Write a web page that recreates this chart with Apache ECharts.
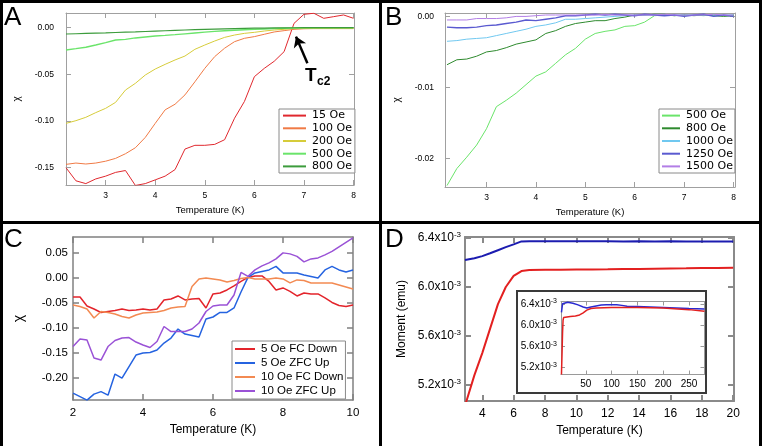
<!DOCTYPE html>
<html>
<head>
<meta charset="utf-8">
<script src="https://cdn.jsdelivr.net/npm/echarts@6/dist/echarts.min.js"></script>
<style>
html, body { margin: 0; padding: 0; width: 762px; height: 446px; background: #000; overflow: hidden; }
.panel { position: absolute; background: #fff; }
#chart { position: absolute; left: 0; top: 0; width: 762px; height: 446px; }
</style>
</head>
<body>
<div class="panel" style="left:3px;top:3px;width:376px;height:218px"></div>
<div class="panel" style="left:382px;top:3px;width:377px;height:218px"></div>
<div class="panel" style="left:3px;top:224px;width:376px;height:222px"></div>
<div class="panel" style="left:382px;top:224px;width:377px;height:222px"></div>
<div id="chart"></div>
<script>
// panel A : chi vs T, low fields
var tempA = [2.2, 2.4, 2.6, 2.8, 3.0, 3.2, 3.4, 3.6, 3.8, 4.0, 4.2, 4.4, 4.6, 4.8, 5.0, 5.2, 5.4, 5.6, 5.8, 6.0, 6.2, 6.4, 6.6, 6.8, 7.0, 7.2, 7.4, 7.6, 7.8, 8.0];
var chiA15 = [-0.150, -0.164, -0.167, -0.162, -0.159, -0.155, -0.153, -0.169, -0.167, -0.163, -0.159, -0.152, -0.130, -0.126, -0.126, -0.125, -0.120, -0.097, -0.079, -0.0525, -0.0436, -0.036, -0.0257, 0.0046, 0.0143, 0.0154, 0.010, 0.0118, 0.0136, 0.010];
var chiA100 = [-0.1464, -0.145, -0.146, -0.145, -0.143, -0.140, -0.135, -0.1286, -0.1175, -0.1025, -0.088, -0.082, -0.072, -0.058, -0.0436, -0.031, -0.022, -0.015, -0.0114, -0.0096, -0.0071, -0.0046, -0.0032, -0.0018, -0.0012, -0.001, -0.001, -0.001, -0.001, -0.001];
var chiA200 = [-0.1025, -0.0996, -0.096, -0.091, -0.0864, -0.080, -0.0668, -0.0596, -0.0507, -0.0443, -0.0393, -0.0346, -0.0304, -0.0232, -0.0186, -0.0143, -0.0104, -0.0079, -0.0061, -0.005, -0.0036, -0.0025, -0.0018, -0.001, -0.0009, -0.0008, -0.0008, -0.0008, -0.0008, -0.0008];
var chiA500 = [-0.0239, -0.0225, -0.021, -0.0186, -0.016, -0.0132, -0.0125, -0.011, -0.010, -0.009, -0.0083, -0.0075, -0.0066, -0.0057, -0.0048, -0.004, -0.0033, -0.0027, -0.0022, -0.0018, -0.0014, -0.001, -0.0007, -0.0004, -0.0002, -0.0002, -0.0002, -0.0002, -0.0002, -0.0002];
var chiA800 = [-0.0068, -0.0065, -0.0062, -0.0059, -0.0056, -0.0052, -0.0048, -0.0045, -0.0041, -0.0037, -0.0033, -0.0029, -0.0025, -0.0022, -0.0019, -0.0016, -0.0013, -0.001, -0.0008, -0.0006, -0.0004, -0.0003, -0.0002, -0.0001, 0, 0, 0, 0, 0, 0];

// panel B : higher fields
var tempB = [2.2, 2.4, 2.6, 2.8, 3.0, 3.2, 3.4, 3.6, 3.8, 4.0, 4.2, 4.4, 4.6, 4.8, 5.0, 5.2, 5.4, 5.6, 5.8, 6.0, 6.2, 6.4, 6.6, 6.8, 7.0, 7.2, 7.4, 7.6, 7.8, 8.0];
var chiB500 = [-0.0238, -0.0214, -0.0198, -0.0181, -0.0158, -0.0127, -0.0118, -0.0108, -0.0096, -0.0084, -0.0078, -0.0066, -0.0054, -0.0045, -0.0032, -0.0024, -0.0021, -0.0019, -0.0014, -0.0013, -0.0008, 0.0001, 0.0002, 0.0001, 0.0002, 0.0002, 0.0001, 0.0003, 0.0001, 0.0002];
var chiB800 = [-0.0068, -0.0061, -0.006, -0.0056, -0.005, -0.0048, -0.0044, -0.0039, -0.0036, -0.0033, -0.0024, -0.002, -0.0014, -0.001, -0.0008, -0.0006, -0.0006, -0.0003, -0.0001, 0.0002, 0.0002, 0.0003, 0.0003, 0.0001, 0.0002, 0.0001, 0.0002, 0.0001, 0.0, 0.0001];
var chiB1000 = [-0.0035, -0.0034, -0.0032, -0.0031, -0.003, -0.0027, -0.0024, -0.0021, -0.0018, -0.0014, -0.0012, -0.0009, -0.0004, -0.0004, -0.0003, -0.0002, -0.0001, 0.0, 0.0001, 0.0002, 0.0002, 0.0002, 0.0002, 0.0002, 0.0002, 0.0002, 0.0002, 0.0002, 0.0002, 0.0002];
var chiB1250 = [-0.0015, -0.0016, -0.0016, -0.0015, -0.0013, -0.0012, -0.001, -0.0008, -0.0005, -0.0006, -0.0004, -0.0002, 0.0001, 0.0001, 0.0002, 0.0003, 0.0002, 0.0003, 0.0002, 0.0001, 0.0003, 0.0002, 0.0001, 0.0002, 0.0, 0.0002, 0.0003, 0.0, 0.0002, 0.0];
var chiB1500 = [-0.0005, -0.0005, -0.0005, -0.0003, -0.0003, -0.0003, -0.0002, 0.0, 0.0, 0.0001, 0.0002, 0.0002, 0.0002, 0.0002, 0.0002, 0.0002, 0.0003, 0.0002, 0.0002, 0.0002, 0.0002, 0.0002, 0.0003, 0.0002, 0.0002, 0.0002, 0.0002, 0.0003, 0.0002, 0.0002];

// panel C : FC / ZFC
var tempC = [2.0, 2.2, 2.4, 2.6, 2.8, 3.0, 3.2, 3.4, 3.6, 3.8, 4.0, 4.2, 4.4, 4.6, 4.8, 5.0, 5.2, 5.4, 5.6, 5.8, 6.0, 6.2, 6.4, 6.6, 6.8, 7.0, 7.2, 7.4, 7.6, 7.8, 8.0, 8.2, 8.4, 8.6, 8.8, 9.0, 9.2, 9.4, 9.6, 9.8, 10.0];
var chiC5FC = [-0.039, -0.039, -0.057, -0.063, -0.07, -0.068, -0.066, -0.063, -0.066, -0.065, -0.063, -0.065, -0.063, -0.045, -0.043, -0.037, -0.045, -0.043, -0.042, -0.061, -0.033, -0.031, -0.025, -0.017, -0.008, 0.0, 0.003, 0.003, -0.008, -0.025, -0.021, -0.028, -0.037, -0.031, -0.033, -0.033, -0.041, -0.05, -0.056, -0.058, -0.055];
var chiC5ZFC = [-0.231, -0.238, -0.245, -0.233, -0.228, -0.235, -0.193, -0.201, -0.178, -0.155, -0.151, -0.15, -0.145, -0.131, -0.121, -0.103, -0.113, -0.116, -0.119, -0.083, -0.079, -0.07, -0.07, -0.061, -0.029, 0.0, 0.009, 0.012, 0.015, 0.022, 0.009, 0.009, 0.009, 0.005, 0.002, -0.001, 0.015, 0.022, 0.015, 0.011, 0.015];
var chiC10FC = [-0.055, -0.058, -0.063, -0.081, -0.068, -0.07, -0.073, -0.078, -0.081, -0.075, -0.071, -0.07, -0.069, -0.066, -0.061, -0.059, -0.058, -0.018, -0.003, -0.001, -0.003, -0.005, -0.009, -0.006, -0.002, 0.0, -0.003, -0.003, -0.003, -0.001, -0.003, -0.011, -0.005, -0.006, -0.011, -0.011, -0.011, -0.011, -0.015, -0.019, -0.023];
var chiC10ZFC = [-0.138, -0.123, -0.125, -0.161, -0.165, -0.138, -0.126, -0.121, -0.12, -0.129, -0.135, -0.14, -0.128, -0.098, -0.108, -0.108, -0.108, -0.103, -0.091, -0.068, -0.057, -0.055, -0.055, -0.035, 0.01, 0.002, 0.015, 0.023, 0.029, 0.037, 0.049, 0.047, 0.042, 0.031, 0.037, 0.039, 0.045, 0.052, 0.061, 0.07, 0.079];

// panel D : moment, in units of 1e-3 emu
var tempD = [2.9, 3.5, 4.0, 4.5, 5.0, 5.5, 6.0, 6.5, 7, 8, 9, 10, 11, 12, 13, 14, 15, 16, 17, 18, 19, 20];
var momBlue = [6.220, 6.235, 6.252, 6.275, 6.300, 6.325, 6.348, 6.372, 6.374, 6.374, 6.373, 6.374, 6.373, 6.374, 6.372, 6.373, 6.372, 6.373, 6.372, 6.372, 6.372, 6.371];
var momRed = [5.03, 5.28, 5.46, 5.66, 5.86, 6.00, 6.09, 6.13, 6.138, 6.140, 6.141, 6.142, 6.143, 6.144, 6.146, 6.147, 6.149, 6.151, 6.152, 6.154, 6.155, 6.157];
var tempInBlue = [2.9, 5, 7, 15, 25, 35, 45, 52, 60, 70, 80, 90, 100, 110, 120, 130, 150, 200, 250, 280];
var momInBlue = [6.24, 6.40, 6.43, 6.43, 6.41, 6.38, 6.34, 6.32, 6.34, 6.36, 6.375, 6.38, 6.38, 6.38, 6.37, 6.355, 6.35, 6.33, 6.31, 6.30];
var tempInRed = [2.9, 4, 5, 6, 7, 20, 30, 38, 45, 52, 60, 70, 100, 150, 200, 250, 280];
var momInRed = [5.07, 5.46, 5.86, 6.09, 6.14, 6.16, 6.17, 6.19, 6.23, 6.28, 6.31, 6.32, 6.33, 6.33, 6.32, 6.29, 6.26];

var SANS = '"Liberation Sans", Arial, sans-serif';
var LUCIDA = '"DejaVu Sans", sans-serif';

var xAxes = [], yAxes = [];

function mainAxis(dir, grid, r, st) {
    return {
        type: 'value', gridIndex: grid, min: r.min, max: r.max, z: st.z || 0,
        position: dir == 'x' ? 'bottom' : 'left',
        axisLine: { show: true, onZero: false, lineStyle: { color: st.frame, width: st.lw } },
        axisTick: { show: true, inside: true, length: st.tick, customValues: r.ticks, lineStyle: { color: st.frame, width: st.lw } },
        axisLabel: { show: true, customValues: r.ticks, margin: r.margin, color: '#000', fontFamily: st.font, fontSize: st.size, formatter: r.fmt, rich: r.rich, hideOverlap: false },
        splitLine: { show: false },
        name: r.name || '', nameLocation: 'middle', nameGap: r.gap, nameMoveOverlap: false,
        nameTextStyle: { color: '#000', fontFamily: st.font, fontSize: r.nameSize }
    };
}

// mirror axis on the opposite side, ticks only
function mirrorAxis(dir, grid, r, st) {
    return {
        type: 'value', gridIndex: grid, min: r.min, max: r.max, z: st.z || 0,
        position: dir == 'x' ? 'top' : 'right',
        axisLine: { show: true, onZero: false, lineStyle: { color: st.frame, width: st.lw } },
        axisTick: { show: true, inside: true, length: st.tick, customValues: r.ticks, lineStyle: { color: st.frame, width: st.lw } },
        axisLabel: { show: false },
        splitLine: { show: false }
    };
}

function addAxes(grid, xr, yr, st) {
    var idx = [xAxes.length, yAxes.length];
    xAxes.push(mainAxis('x', grid, xr, st), mirrorAxis('x', grid, xr, st));
    yAxes.push(mainAxis('y', grid, yr, st), mirrorAxis('y', grid, yr, st));
    return idx;
}

function line(name, temps, vals, color, width, ax, z) {
    return {
        type: 'line', name: name, xAxisIndex: ax[0], yAxisIndex: ax[1],
        data: temps.map(function (t, i) { return [t, vals[i]]; }),
        symbol: 'none', color: color, lineStyle: { color: color, width: width },
        z: z || 2, silent: true, animation: false
    };
}

var fmt2 = function (v) { return v.toFixed(2); };
var fmtExp = function (v) { return '{m|' + v.toFixed(1) + 'x10}{e|-3}'; };

var stAB = { frame: '#a0a0a0', lw: 1, tick: 5, font: SANS, size: 8.5 };
var axA = addAxes(0,
    { min: 2.2, max: 8.01, ticks: [3, 4, 5, 6, 7, 8], margin: 6, name: 'Temperature (K)', gap: 20, nameSize: 9.5 },
    { min: -0.1685, max: 0.0157, ticks: [-0.15, -0.1, -0.05, 0], margin: 12, fmt: fmt2, name: 'χ', gap: 44, nameSize: 10 }, stAB);
var axB = addAxes(1,
    { min: 2.16, max: 8.03, ticks: [3, 4, 5, 6, 7, 8], margin: 6, name: 'Temperature (K)', gap: 20, nameSize: 9.5 },
    { min: -0.024, max: 0.00048, ticks: [-0.02, -0.01, 0], margin: 11, fmt: fmt2, name: 'χ', gap: 43, nameSize: 10 }, stAB);
var axC = addAxes(2,
    { min: 2, max: 10, ticks: [2, 4, 6, 8, 10], margin: 7, name: 'Temperature (K)', gap: 24, nameSize: 12 },
    { min: -0.2447, max: 0.0807, ticks: [-0.2, -0.15, -0.1, -0.05, 0, 0.05], margin: 5, fmt: fmt2, name: 'χ', gap: 47, nameSize: 14 },
    { frame: '#808080', lw: 1.5, tick: 6, font: SANS, size: 11.5 });
var axD = addAxes(3,
    { min: 2.9, max: 20.05, ticks: [4, 6, 8, 10, 12, 14, 16, 18, 20], margin: 7, name: 'Temperature (K)', gap: 24, nameSize: 12 },
    { min: 5.069, max: 6.408, ticks: [5.2, 5.6, 6.0, 6.4], margin: 4, fmt: fmtExp, name: 'Moment (emu)', gap: 57, nameSize: 12,
      rich: { m: { fontSize: 12, fontFamily: SANS, color: '#000' }, e: { fontSize: 8, fontFamily: SANS, color: '#000', verticalAlign: 'top', padding: [0, 0, 6, 0] } } },
    { frame: '#8a8a8a', lw: 2, tick: 6, font: SANS, size: 12 });
var axIn = addAxes(4,
    { min: 2, max: 280, ticks: [50, 100, 150, 200, 250], margin: 5 },
    { min: 5.069, max: 6.443, ticks: [5.2, 5.6, 6.0, 6.4], margin: 4, fmt: fmtExp,
      rich: { m: { fontSize: 10, fontFamily: SANS, color: '#000' }, e: { fontSize: 7, fontFamily: SANS, color: '#000', verticalAlign: 'top', padding: [0, 0, 5, 0] } } },
    { frame: '#9a9a9a', lw: 1, tick: 4, font: SANS, size: 10, z: 10 });

var seriesList = [
    line('A 15 Oe', tempA, chiA15, '#e0282e', 1, axA),
    line('A 100 Oe', tempA, chiA100, '#f07a45', 1, axA),
    line('A 200 Oe', tempA, chiA200, '#d6cc3a', 1, axA),
    line('A 500 Oe', tempA, chiA500, '#6ae46a', 1.4, axA),
    line('A 800 Oe', tempA, chiA800, '#3c9c3c', 1.2, axA),
    line('B 500 Oe', tempB, chiB500, '#6ae46a', 1, axB),
    line('B 800 Oe', tempB, chiB800, '#2e8a2e', 1, axB),
    line('B 1000 Oe', tempB, chiB1000, '#70c8f0', 1, axB),
    line('B 1250 Oe', tempB, chiB1250, '#5a5ad0', 1.4, axB),
    line('B 1500 Oe', tempB, chiB1500, '#b27ee6', 1, axB),
    line('C 5 Oe FC Down', tempC, chiC5FC, '#e3242b', 1.5, axC),
    line('C 5 Oe ZFC Up', tempC, chiC5ZFC, '#2563e0', 1.5, axC),
    line('C 10 Oe FC Down', tempC, chiC10FC, '#f38a52', 1.5, axC),
    line('C 10 Oe ZFC Up', tempC, chiC10ZFC, '#9a52d6', 1.5, axC),
    line('D blue', tempD, momBlue, '#1c1cb0', 2, axD),
    line('D red', tempD, momRed, '#e32020', 2, axD),
    line('D in blue', tempInBlue, momInBlue, '#2a2ad0', 1.5, axIn, 10),
    line('D in red', tempInRed, momInRed, '#e32020', 1.5, axIn, 10)
];

// Tc2 arrow, in data coordinates of panel A
seriesList[0].markLine = {
    silent: true, animation: false, symbol: ['none', 'arrow'], symbolSize: 10,
    lineStyle: { color: '#000', width: 2.5, type: 'solid' }, label: { show: false },
    data: [[{ coord: [7.07, -0.038] }, { coord: [6.84, -0.0096] }]]
};

function legendBox(names, left, top, iw, ih, gap, pad, font, size) {
    return {
        data: names, left: left, top: top, orient: 'vertical', selectedMode: false,
        itemWidth: iw, itemHeight: ih, itemGap: gap, padding: pad,
        itemStyle: { opacity: 0 },
        borderColor: '#8a8a8a', borderWidth: 1, backgroundColor: '#fff',
        textStyle: { color: '#000', fontFamily: font, fontSize: size, padding: [0, 0, 0, 1] },
        formatter: function (n) { return n.slice(2); }
    };
}

var option = {
    animation: false,
    grid: [
        { left: 66, top: 13, width: 288, height: 172, outerBoundsMode: 'none' },
        { left: 445, top: 13, width: 290, height: 174, outerBoundsMode: 'none' },
        { left: 73, top: 237, width: 280, height: 163, outerBoundsMode: 'none' },
        { left: 465, top: 237, width: 269, height: 164, outerBoundsMode: 'none' },
        { left: 561, top: 301.5, width: 143.5, height: 73, outerBoundsMode: 'none' }
    ],
    xAxis: xAxes,
    yAxis: yAxes,
    legend: [
        legendBox(['A 15 Oe', 'A 100 Oe', 'A 200 Oe', 'A 500 Oe', 'A 800 Oe'], 279, 109, 23, 14, 1.5, [1, 3, 1, 3], LUCIDA, 11),
        legendBox(['B 500 Oe', 'B 800 Oe', 'B 1000 Oe', 'B 1250 Oe', 'B 1500 Oe'], 659, 109, 18, 14, 1.5, [1, 2, 1, 2], LUCIDA, 11),
        legendBox(['C 5 Oe FC Down', 'C 5 Oe ZFC Up', 'C 10 Oe FC Down', 'C 10 Oe ZFC Up'], 232, 341, 20, 12, 2, [2, 2, 2, 2], SANS, 11.5)
    ],
    graphic: [
        { type: 'text', left: 4, top: 5, style: { text: 'A', font: '26px "Liberation Sans"', fill: '#000' } },
        { type: 'text', left: 385, top: 5, style: { text: 'B', font: '26px "Liberation Sans"', fill: '#000' } },
        { type: 'text', left: 4, top: 227, style: { text: 'C', font: '26px "Liberation Sans"', fill: '#000' } },
        { type: 'text', left: 385, top: 227, style: { text: 'D', font: '26px "Liberation Sans"', fill: '#000' } },
        { type: 'text', left: 305, top: 66, style: { text: 'T', font: 'bold 19px "Liberation Sans"', fill: '#000' } },
        { type: 'text', left: 317, top: 76, style: { text: 'c2', font: 'bold 12px "Liberation Sans"', fill: '#000' } },
        // inset frame
        { type: 'rect', z: 5, shape: { x: 517, y: 291, width: 189, height: 102 }, style: { fill: '#fff', stroke: '#3a3a3a', lineWidth: 2 } }
    ],
    series: seriesList
};

var chart = echarts.init(document.getElementById('chart'));
chart.setOption(option);
</script>
</body>
</html>
